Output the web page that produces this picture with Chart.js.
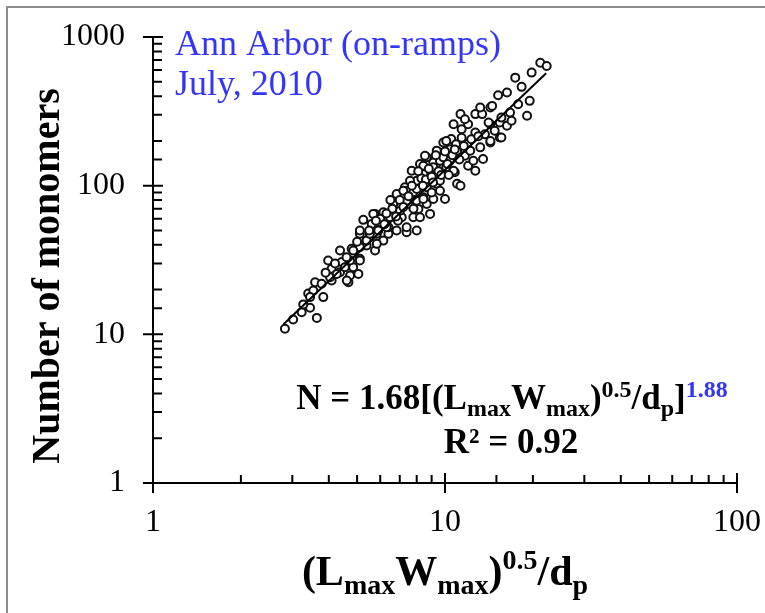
<!DOCTYPE html>
<html lang="en">
<head>
  <meta charset="UTF-8">
  <title>Number of monomers - Ann Arbor (on-ramps)</title>
  <script src="https://cdn.jsdelivr.net/npm/chart.js"></script>
  <style>
    html, body { margin: 0; padding: 0; background: #fff; }
    canvas { display: block; }
  </style>
</head>
<body>
  <canvas id="chart" width="765" height="613"></canvas>
  <script>
    // (LmaxWmax)^0.5/dp of each aggregate, and its number of monomers
    const sizeParam = [
      2.83, 3.02, 3.23, 3.45, 3.64, 3.27, 3.40, 3.54, 3.59, 3.78,
      3.98, 4.04, 4.09, 4.37, 4.43, 4.67, 4.73, 4.85, 5.05, 4.79,
      5.11, 4.37, 4.20, 5.11, 5.39, 5.76, 5.53, 6.15, 6.40, 5.11,
      5.25, 5.61, 5.76, 5.99, 6.15, 6.40, 6.57, 6.65, 6.83, 7.11,
      7.39, 8.00, 7.49, 7.69, 7.79, 7.69, 8.21, 8.66, 8.89, 8.43,
      9.12, 9.37, 10.0, 9.87, 10.3, 8.11, 7.29, 5.39, 5.84, 6.83,
      8.21, 8.89, 11.0, 7.39, 8.00, 8.43, 8.54, 9.12, 9.37, 9.87,
      10.5, 10.4, 9.61, 10.1, 10.8, 11.3, 11.7, 12.0, 12.7, 13.5,
      13.2, 14.3, 15.4, 13.7, 12.7, 10.7, 11.3, 11.4, 12.0, 12.7,
      13.4, 13.2, 14.3, 14.3, 15.4, 16.3, 16.9, 17.8, 19.1, 8.00,
      8.66, 9.37, 11.9, 21.2, 22.3, 19.8, 17.4, 18.3, 19.5, 16.3,
      15.2, 14.5, 11.7, 14.1, 15.6, 16.7, 14.8, 15.6, 14.3, 10.1,
      5.68, 6.48, 7.01, 7.39, 7.79, 8.21, 8.66, 8.43, 9.12, 9.61,
      9.87, 10.7, 7.20, 7.39, 6.31, 5.91, 5.53, 5.84, 5.11, 4.85,
      4.73, 5.11, 4.54, 4.61, 4.09, 4.04, 3.45, 3.83, 4.26, 7.59,
      8.30, 7.79, 8.43, 9.12, 9.61, 10.4, 11.0, 12.2, 12.5,
      6.0, 6.6, 7.0, 7.5, 8.0, 8.6, 9.0, 9.5, 10.2, 10.6,
      11.2, 11.6, 9.3, 8.8, 7.8, 6.9, 6.2, 5.5, 5.0, 4.6,
      4.2, 3.9, 12.3, 13.0, 10.9, 10.0, 9.0, 8.1, 7.2, 6.5,
      6.3, 7.7, 8.4, 9.7, 10.8, 5.8, 6.8, 9.1, 10.3, 11.4
    ];
    const monomers = [
      10.9, 12.6, 14.1, 15.1, 12.9, 15.9, 18.8, 19.7, 22.4, 21.9,
      31.4, 25.5, 23.0, 36.6, 30.6, 22.4, 24.9, 28.3, 25.5, 37.6,
      32.2, 26.2, 25.5, 47.4, 39.6, 36.6, 45.0, 42.7, 47.4, 49.9,
      58.9, 55.3, 64.6, 56.7, 66.2, 52.5, 62.9, 75.4, 88.0, 61.3,
      48.6, 49.9, 75.4, 88.0, 105, 126, 140, 155, 64.6, 83.5,
      97.5, 114, 81.4, 133, 151, 69.8, 97.5, 42.7, 47.4, 49.9,
      97.5, 120, 103, 92.5, 79.3, 136, 159, 143, 172, 195,
      206, 176, 147, 133, 123, 100, 159, 136, 126, 151,
      181, 195, 211, 222, 228, 259, 303, 240, 259, 303,
      303, 336, 336, 259, 266, 253, 273, 353, 295, 108,
      97.5, 103, 191, 672, 639, 576, 533, 462, 372, 423,
      406, 344, 280, 266, 287, 310, 234, 211, 200, 200,
      64.6, 61.3, 67.9, 52.5, 61.3, 61.3, 75.4, 120, 133, 108,
      155, 126, 92.5, 79.3, 52.5, 49.9, 47.4, 40.6, 38.5, 36.6,
      31.4, 31.4, 28.3, 23.0, 27.6, 24.2, 17.8, 17.8, 25.5, 108,
      112, 90.2, 81.4, 81.4, 92.5, 147, 172, 172, 147,
      60, 70, 80, 85, 95, 110, 115, 125, 140, 160,
      150, 185, 160, 130, 70, 58, 55, 50, 42, 33,
      30, 26, 205, 215, 190, 170, 90, 125, 72, 80,
      65, 100, 100, 118, 175, 58, 62, 105, 118, 210
    ];
    // power-law fit, end points
    const fitX = [2.8, 22.2];
    const fitY = [11.7, 571];

    const SERIF = '"Liberation Serif", "Times New Roman", serif';
    const BLUE = '#3535f7';

    function isDecade(v) {
      const l = Math.log10(v);
      return Math.abs(l - Math.round(l)) < 1e-9;
    }

    // draws a line of text made of pieces (for sub/superscripts)
    function drawPieces(ctx, pieces, cx, baseline) {
      let total = 0;
      pieces.forEach(p => {
        ctx.font = 'bold ' + p.size + 'px ' + SERIF;
        p.w = ctx.measureText(p.t).width;
        total += p.w;
      });
      let x = cx - total / 2;
      pieces.forEach(p => {
        ctx.font = 'bold ' + p.size + 'px ' + SERIF;
        ctx.fillStyle = p.color || '#000';
        ctx.fillText(p.t, x, baseline + (p.dy || 0));
        x += p.w;
      });
    }

    const axisPlugin = {
      id: 'axisTicks',
      afterDatasetsDraw(chart) {
        const { ctx, scales: { x, y } } = chart;
        const x0 = x.getPixelForValue(x.min), x1 = x.getPixelForValue(x.max);
        const y0 = y.getPixelForValue(y.min), y1 = y.getPixelForValue(y.max);
        ctx.save();
        ctx.strokeStyle = '#000';
        ctx.lineWidth = 2;
        ctx.beginPath();
        ctx.moveTo(x0, y1); ctx.lineTo(x0, y0);
        ctx.moveTo(x0, y0); ctx.lineTo(x1, y0);
        y.ticks.forEach(t => {
          const py = y.getPixelForValue(t.value);
          if (isDecade(t.value)) { ctx.moveTo(x0 - 10, py); ctx.lineTo(x0 + 10, py); }
          else { ctx.moveTo(x0, py); ctx.lineTo(x0 + 9, py); }
        });
        x.ticks.forEach(t => {
          const px = x.getPixelForValue(t.value);
          if (isDecade(t.value)) { ctx.moveTo(px, y0 + 10); ctx.lineTo(px, y0 - 10); }
          else { ctx.moveTo(px, y0); ctx.lineTo(px, y0 - 8); }
        });
        ctx.stroke();
        ctx.restore();
      }
    };

    const textPlugin = {
      id: 'texts',
      afterDraw(chart) {
        const ctx = chart.ctx;
        ctx.save();
        // picture frame
        ctx.strokeStyle = '#8c8c8c';
        ctx.lineWidth = 2;
        ctx.beginPath();
        ctx.moveTo(7, 613); ctx.lineTo(7, 7); ctx.lineTo(765, 7);
        ctx.stroke();

        ctx.textAlign = 'left';
        ctx.textBaseline = 'alphabetic';

        // site label
        ctx.fillStyle = BLUE;
        ctx.font = '36px ' + SERIF;
        ctx.fillText('Ann Arbor (on-ramps)', 175, 55);
        ctx.fillText('July, 2010', 175, 95);

        // fit equation
        const big = 35, small = 24;
        drawPieces(ctx, [
          { t: 'N = 1.68[(L', size: big },
          { t: 'max', size: small, dy: 7 },
          { t: 'W', size: big },
          { t: 'max', size: small, dy: 7 },
          { t: ')', size: big },
          { t: '0.5', size: small, dy: -12 },
          { t: '/d', size: big },
          { t: 'p', size: small, dy: 7 },
          { t: ']', size: big },
          { t: '1.88', size: small, dy: -12, color: BLUE }
        ], 512, 409);
        drawPieces(ctx, [{ t: 'R² = 0.92', size: big }], 511, 453);

        // x axis title
        drawPieces(ctx, [
          { t: '(L', size: 42 },
          { t: 'max', size: 28, dy: 9 },
          { t: 'W', size: 42 },
          { t: 'max', size: 28, dy: 9 },
          { t: ')', size: 42 },
          { t: '0.5', size: 28, dy: -16 },
          { t: '/d', size: 42 },
          { t: 'p', size: 28, dy: 9 }
        ], 445, 585);

        // y axis title
        ctx.translate(59, 276);
        ctx.rotate(-Math.PI / 2);
        ctx.fillStyle = '#000';
        ctx.font = 'bold 40px ' + SERIF;
        ctx.textAlign = 'center';
        ctx.fillText('Number of monomers', 0, 0);
        ctx.restore();
      }
    };

    const tickFont = { family: SERIF, size: 32 };

    // keep tick labels from pushing the plot area in
    function noLabelPadding(s) {
      s.paddingTop = 0; s.paddingBottom = 0;
      s.paddingLeft = 0; s.paddingRight = 0;
    }

    new Chart(document.getElementById('chart'), {
      type: 'scatter',
      data: {
        datasets: [
          {
            label: 'Fit',
            data: fitX.map((v, i) => ({ x: v, y: fitY[i] })),
            showLine: true,
            borderColor: '#000',
            borderWidth: 2,
            pointRadius: 0,
            order: 0
          },
          {
            label: 'Aggregates',
            data: sizeParam.map((v, i) => ({ x: v, y: monomers[i] })),
            pointRadius: 4,
            borderWidth: 2,
            borderColor: '#111',
            backgroundColor: '#fff',
            order: 1
          }
        ]
      },
      options: {
        responsive: false,
        animation: false,
        layout: { padding: { top: 37, right: 28, left: 0, bottom: 0 } },
        plugins: {
          legend: { display: false },
          tooltip: { enabled: false }
        },
        scales: {
          x: {
            type: 'logarithmic',
            min: 1,
            max: 100,
            grid: { display: false, drawTicks: false },
            border: { display: false },
            ticks: {
              autoSkip: false,
              maxRotation: 0,
              padding: 20,
              font: tickFont,
              color: '#000',
              callback: v => isDecade(v) ? String(v) : ''
            },
            afterFit: s => { s.height = 130; noLabelPadding(s); }
          },
          y: {
            type: 'logarithmic',
            min: 1,
            max: 1000,
            grid: { display: false, drawTicks: false },
            border: { display: false },
            ticks: {
              autoSkip: false,
              padding: 28,
              font: tickFont,
              color: '#000',
              callback: v => isDecade(v) ? String(v) : ''
            },
            afterFit: s => { s.width = 153; noLabelPadding(s); }
          }
        }
      },
      plugins: [axisPlugin, textPlugin]
    });
  </script>
</body>
</html>
